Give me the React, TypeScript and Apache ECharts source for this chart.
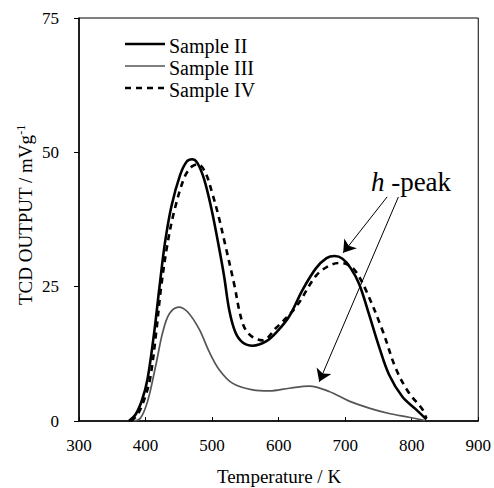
import React, { useEffect, useRef } from "react";
import * as echarts from "echarts";

const sampleII: number[][] = [
  [375, 0], [385, 1.2], [395, 4], [403, 7.8], [413, 16.5], [421, 25], [429, 33], [439, 40],
  [452, 45.8], [462, 48.3], [470, 48.7], [478, 48], [488, 45], [499, 39.5], [509, 33.2], [518, 27],
  [526, 20.5], [535, 16.5], [546, 14.6], [561, 14], [581, 14.8], [598, 16.7], [616, 19.5],
  [636, 24.4], [656, 28.4], [672, 30.3], [684, 30.7], [696, 30.2], [708, 28.5], [721, 25.5], [736, 19.8],
  [751, 13.8], [766, 8.6], [786, 4.5], [806, 2.2], [822, 0.3],
];
const sampleIII: number[][] = [
  [382, 0], [392, 0.5], [400, 2.5], [406, 5], [416, 10.7], [426, 16.6], [436, 20], [450, 21.2],
  [464, 20.2], [481, 17], [496, 12.8], [511, 9.5], [531, 7], [561, 5.8], [586, 5.6], [616, 6.1],
  [646, 6.5], [676, 5.5], [706, 3.7], [736, 2.4], [766, 1.4], [796, 0.7], [820, 0.1],
];
const sampleIV: number[][] = [
  [378, 0], [388, 1.2], [398, 4], [407, 8], [416, 16.5], [423, 24.5], [433, 33], [444, 39.5],
  [459, 45.5], [470, 47.4], [479, 47.8], [490, 46.2], [500, 42.5], [510, 38], [519, 33.2], [534, 25],
  [541, 20.5], [549, 17.3], [561, 15.6], [576, 15], [596, 17.3], [626, 21.2], [656, 27],
  [676, 28.9], [692, 29.4], [704, 29.1], [716, 27.8], [731, 24.4], [756, 16.9], [776, 9.8], [796, 5.2],
  [816, 2.2], [822, 0.5],
];
const arrows: number[][][] = [
  [[763, 41.7], [697, 31.3]],
  [[780, 41.7], [661, 7.3]],
];
const seriesNames = ["Sample II", "Sample III", "Sample IV"];
const xTitle = "Temperature / K";
const yTitle = "TCD OUTPUT / mVg";
const peakLabel = "-peak";

const FONT = "'Liberation Serif', 'DejaVu Serif', serif";

export default function App() {
  const ref = useRef<HTMLDivElement>(null);
  useEffect(() => {
    document.body.style.margin = "0";
    const chart = echarts.init(ref.current!, null, { renderer: "svg" });
    const legendY = [44, 66, 88];
    const line = { showSymbol: false, smooth: 0.35 };
    chart.setOption({
      animation: false,
      backgroundColor: "#fff",
      grid: { left: 79, top: 18, width: 400, height: 403, show: true, borderColor: "#000", borderWidth: 1 },
      xAxis: {
        type: "value", min: 300, max: 900, interval: 100,
        axisLine: { lineStyle: { color: "#000", width: 1.5 } },
        axisTick: { inside: true, length: 4, lineStyle: { color: "#000" } },
        axisLabel: { color: "#000", fontFamily: FONT, fontSize: 17, margin: 16 },
        splitLine: { show: false },
      },
      yAxis: {
        type: "value", min: 0, max: 75, interval: 25,
        axisLine: { show: true, lineStyle: { color: "#000", width: 1.5 } },
        axisTick: { show: true, length: 5, lineStyle: { color: "#000" } },
        axisLabel: { color: "#000", fontFamily: FONT, fontSize: 17, margin: 20 },
        splitLine: { show: false },
      },
      series: [
        { name: seriesNames[0], type: "line", data: sampleII, ...line,
          lineStyle: { color: "#000", width: 2.6 } },
        { name: seriesNames[1], type: "line", data: sampleIII, ...line,
          lineStyle: { color: "#555", width: 1.7 } },
        { name: seriesNames[2], type: "line", data: sampleIV, ...line,
          lineStyle: { color: "#000", width: 2.6, type: [6, 5] } },
        { type: "lines", coordinateSystem: "cartesian2d", symbol: ["none", "arrow"], symbolSize: 12,
          lineStyle: { color: "#000", width: 1, opacity: 1 },
          data: arrows.map((c) => ({ coords: c })) },
      ],
      graphic: [
        ...seriesNames.map((n, i) => ({
          type: "group",
          children: [
            { type: "line", shape: { x1: 125, y1: legendY[i], x2: 165, y2: legendY[i] },
              style: { stroke: i === 1 ? "#555" : "#000", lineWidth: i === 1 ? 1.7 : 2.6,
                lineDash: i === 2 ? [6, 5] : null } },
            { type: "text", x: 169, y: legendY[i] + 2,
              style: { text: n, fill: "#000", font: `20px ${FONT}`, verticalAlign: "middle" } },
          ],
        })),
        { type: "text", x: 411, y: 182,
          style: { text: `{i|h} ${peakLabel}`, align: "center", verticalAlign: "middle",
            rich: { i: { fontStyle: "italic", fontFamily: FONT, fontSize: 27, fill: "#000" } },
            font: `27px ${FONT}`, fill: "#000" } },
        { type: "text", x: 279, y: 476,
          style: { text: xTitle, align: "center", verticalAlign: "middle", font: `19px ${FONT}`, fill: "#000" } },
        { type: "text", x: 25, y: 215, rotation: Math.PI / 2,
          style: { text: `${yTitle}{s|-1}`, align: "center", verticalAlign: "middle",
            font: `19px ${FONT}`, fill: "#000",
            rich: { s: { fontSize: 12, fontFamily: FONT, verticalAlign: "top", padding: [0, 0, 9, 0], fill: "#000" } } } },
      ],
    });
    return () => chart.dispose();
  }, []);
  return <div ref={ref} style={{ width: 494, height: 488 }} />;
}
